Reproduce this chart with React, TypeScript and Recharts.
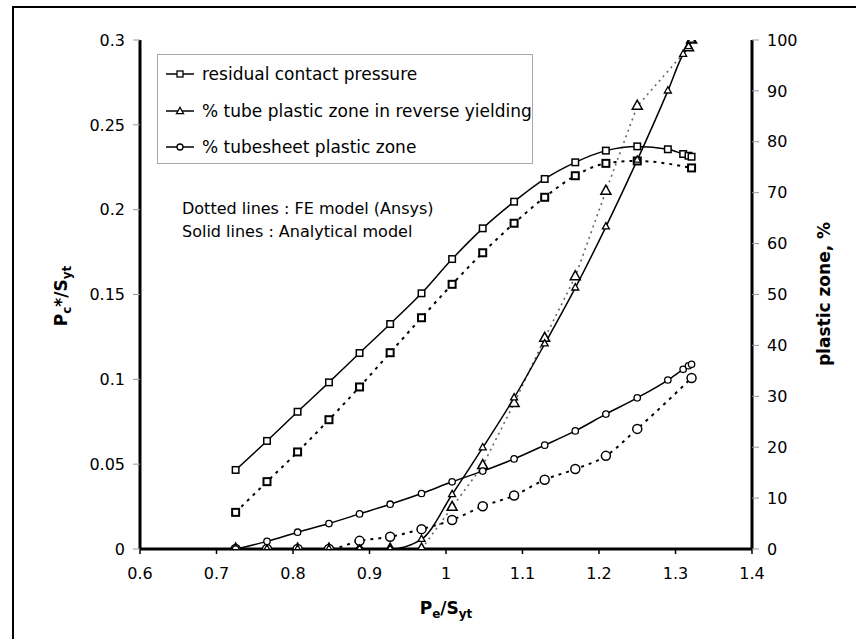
import React from 'react';
import { LineChart, Line, XAxis, YAxis, Legend, Label } from 'recharts';

// ---- Data ----
const xAnalytic = [0.725, 0.766, 0.806, 0.847, 0.887, 0.927, 0.968, 1.008, 1.048, 1.089, 1.129, 1.169, 1.209, 1.25, 1.29, 1.31, 1.317, 1.321];
const pressureAnalytic = [0.0466, 0.0637, 0.0809, 0.0982, 0.1155, 0.1326, 0.1507, 0.1709, 0.189, 0.2047, 0.2181, 0.2279, 0.2348, 0.2373, 0.2356, 0.2328, 0.2318, 0.2312];
const tubeAnalytic = [0, 0, 0, 0, 0, 0, 1.9, 10.7, 19.9, 29.7, 40.3, 51.3, 63.3, 76.4, 90.0, 97.2, 98.7, 100];
const tubesheetAnalytic = [0, 1.5, 3.3, 5.0, 6.9, 8.8, 10.9, 13.2, 15.3, 17.7, 20.4, 23.2, 26.5, 29.7, 33.2, 35.3, 36.0, 36.3];

const xPressureFE = [0.725, 0.766, 0.806, 0.847, 0.887, 0.927, 0.968, 1.008, 1.048, 1.089, 1.129, 1.169, 1.209, 1.25, 1.321];
const pressureFE = [0.0216, 0.0397, 0.0572, 0.0762, 0.0955, 0.1157, 0.1363, 0.156, 0.1746, 0.192, 0.2073, 0.22, 0.2273, 0.2287, 0.2246];

const xTubeFE = [0.725, 0.766, 0.806, 0.847, 0.887, 0.927, 0.968, 1.008, 1.048, 1.089, 1.129, 1.169, 1.209, 1.25, 1.317, 1.321];
const tubeFE = [0, 0, 0, 0, 0, 0, 0, 8.2, 16.4, 28.6, 41.4, 53.5, 70.3, 87.0, 98.5, 100];

const xTubesheetFE = [0.725, 0.766, 0.806, 0.847, 0.887, 0.927, 0.968, 1.008, 1.048, 1.089, 1.129, 1.169, 1.209, 1.25, 1.321];
const tubesheetFE = [0, 0, 0, 0, 1.6, 2.4, 3.9, 5.7, 8.4, 10.5, 13.6, 15.7, 18.3, 23.6, 33.6];

const xTicks = [0.6, 0.7, 0.8, 0.9, 1, 1.1, 1.2, 1.3, 1.4];
const leftTicks = [0, 0.05, 0.1, 0.15, 0.2, 0.25, 0.3];
const rightTicks = [0, 10, 20, 30, 40, 50, 60, 70, 80, 90, 100];
const xMinorTicks = Array.from({ length: 41 }, (_, i) => Math.round((0.6 + i * 0.02) * 1000) / 1000);
const leftMinorTicks = Array.from({ length: 31 }, (_, i) => Math.round(i * 0.01 * 1000) / 1000);
const rightMinorTicks = Array.from({ length: 51 }, (_, i) => i * 2);

const legendLabels = ['residual contact pressure', '% tube plastic zone in reverse yielding', '% tubesheet plastic zone'];
const noteLines = ['Dotted lines : FE model (Ansys)', 'Solid lines : Analytical model'];

const pair = (xs: number[], ys: number[]) => xs.map((x, i) => ({ x, y: ys[i] }));

const pressureAnalyticData = pair(xAnalytic, pressureAnalytic);
const tubeAnalyticData = pair(xAnalytic, tubeAnalytic);
const tubesheetAnalyticData = pair(xAnalytic, tubesheetAnalytic);
const pressureFEData = pair(xPressureFE, pressureFE);
const tubeFEData = pair(xTubeFE, tubeFE);
const tubesheetFEData = pair(xTubesheetFE, tubesheetFE);

const FONT = '"DejaVu Sans", "Liberation Sans", Arial, sans-serif';

// ---- Marker shapes ----
const squareDot = (size: number, sw: number) => (props: any) => {
  const { cx, cy, index } = props;
  if (cx == null || cy == null) return <g key={index} />;
  return (
    <rect key={index} x={cx - size / 2} y={cy - size / 2} width={size} height={size}
      fill="#fff" stroke="#000" strokeWidth={sw} />
  );
};
const circleDot = (r: number, sw: number) => (props: any) => {
  const { cx, cy, index } = props;
  if (cx == null || cy == null) return <g key={index} />;
  return <circle key={index} cx={cx} cy={cy} r={r} fill="#fff" stroke="#000" strokeWidth={sw} />;
};
const triPoints = (cx: number, cy: number, w: number) => {
  const h = w * 0.9;
  return `${cx},${cy - (h * 2) / 3} ${cx - w / 2},${cy + h / 3} ${cx + w / 2},${cy + h / 3}`;
};
const triangleDot = (w: number, sw: number) => (props: any) => {
  const { cx, cy, index } = props;
  if (cx == null || cy == null) return <g key={index} />;
  return <polygon key={index} points={triPoints(cx, cy, w)} fill="#fff" stroke="#000" strokeWidth={sw} />;
};

const renderLegend = () => (
  <div
    style={{
      width: 376,
      height: 110,
      border: '1px solid #a8a8a8',
      boxSizing: 'border-box',
      background: '#fff',
      position: 'relative',
      fontFamily: FONT,
    }}
  >
    {legendLabels.map((label, i) => (
      <div
        key={label}
        style={{
          position: 'absolute',
          left: 7,
          top: [19, 56, 92][i] - 11,
          height: 22,
          display: 'flex',
          alignItems: 'center',
          whiteSpace: 'nowrap',
        }}
      >
        <svg width={30} height={22} style={{ display: 'block' }}>
          <line x1={1} y1={11} x2={29} y2={11} stroke="#000" strokeWidth={1.5} />
          {i === 0 && <rect x={12} y={8} width={6} height={6} fill="#fff" stroke="#000" strokeWidth={1.3} />}
          {i === 1 && <polygon points={triPoints(15, 11.5, 7)} fill="#fff" stroke="#000" strokeWidth={1.3} />}
          {i === 2 && <circle cx={15} cy={11} r={3} fill="#fff" stroke="#000" strokeWidth={1.3} />}
        </svg>
        <span style={{ marginLeft: 7, fontSize: 17, color: '#000' }}>{label}</span>
      </div>
    ))}
  </div>
);

const LeftTitle = () => (
  <text x={67} y={296} transform="rotate(-90, 67, 296)" textAnchor="middle"
    fontFamily={FONT} fontWeight="bold" fontSize={17} fill="#000">
    P<tspan fontSize={12} dy={4}>c</tspan><tspan dy={-4}>*/S</tspan><tspan fontSize={12} dy={4}>yt</tspan>
  </text>
);
const RightTitle = () => (
  <text x={830} y={294} transform="rotate(-90, 830, 294)" textAnchor="middle"
    fontFamily={FONT} fontWeight="bold" fontSize={17} fill="#000">
    plastic zone, %
  </text>
);
const BottomTitle = () => (
  <text x={446} y={614} textAnchor="middle" fontFamily={FONT} fontWeight="bold" fontSize={17} fill="#000">
    P<tspan fontSize={12} dy={4}>e</tspan><tspan dy={-4}>/S</tspan><tspan fontSize={12} dy={4}>yt</tspan>
  </text>
);

const tickStyle = { fill: '#000', fontSize: 16, fontFamily: FONT };

export default function App() {
  return (
    <div style={{ position: 'absolute', left: 0, top: 0, width: 856, height: 639, overflow: 'hidden', background: '#fff' }}>
      <div
        style={{
          position: 'absolute',
          left: 12,
          top: 6,
          width: 900,
          height: 700,
          borderLeft: '2.5px solid #000',
          borderTop: '2.5px solid #000',
        }}
      />
      <div style={{ position: 'absolute', left: 0, top: 0 }}>
        <LineChart width={856} height={639} margin={{ top: 40, right: 44, bottom: 50, left: 80 }}>
          <XAxis
            xAxisId="main"
            type="number"
            dataKey="x"
            domain={[0.6, 1.4]}
            ticks={xTicks}
            interval={0}
            height={40}
            axisLine={{ stroke: '#000', strokeWidth: 3 }}
            tickLine={{ stroke: '#000', strokeWidth: 1.5 }}
            tickSize={5}
            tickMargin={14}
            tick={tickStyle}
            allowDataOverflow
            label={<Label content={() => <BottomTitle />} />}
          />
          <XAxis
            xAxisId="minor"
            type="number"
            dataKey="x"
            domain={[0.6, 1.4]}
            ticks={xMinorTicks}
            interval={0}
            height={0}
            mirror
            axisLine={false}
            tick={false}
            tickSize={5}
            tickLine={{ stroke: '#000', strokeWidth: 1.5 }}
            allowDataOverflow
          />
          <XAxis
            xAxisId="top"
            orientation="top"
            type="number"
            dataKey="x"
            domain={[0.6, 1.4]}
            ticks={xTicks}
            height={0}
            mirror
            tick={false}
            tickLine={false}
            axisLine={{ stroke: '#000', strokeWidth: 3 }}
            allowDataOverflow
          />
          <YAxis
            yAxisId="left"
            type="number"
            domain={[0, 0.3]}
            ticks={leftTicks}
            interval={0}
            width={60}
            axisLine={{ stroke: '#000', strokeWidth: 3 }}
            tickLine={{ stroke: '#999', strokeWidth: 1 }}
            tickSize={7}
            tickMargin={8}
            tick={tickStyle}
            allowDataOverflow
            label={<Label content={() => <LeftTitle />} />}
          />
          <YAxis
            yAxisId="leftMinor"
            type="number"
            domain={[0, 0.3]}
            ticks={leftMinorTicks}
            interval={0}
            width={0}
            mirror
            axisLine={false}
            tick={false}
            tickSize={3}
            tickLine={{ stroke: '#999', strokeWidth: 1 }}
            allowDataOverflow
          />
          <YAxis
            yAxisId="right"
            orientation="right"
            type="number"
            domain={[0, 100]}
            ticks={rightTicks}
            interval={0}
            width={60}
            axisLine={{ stroke: '#000', strokeWidth: 3 }}
            tickLine={{ stroke: '#999', strokeWidth: 1 }}
            tickSize={7}
            tickMargin={8}
            tick={tickStyle}
            allowDataOverflow
            label={<Label content={() => <RightTitle />} />}
          />
          <YAxis
            yAxisId="rightMinor"
            orientation="right"
            type="number"
            domain={[0, 100]}
            ticks={rightMinorTicks}
            interval={0}
            width={0}
            mirror
            axisLine={false}
            tick={false}
            tickSize={3}
            tickLine={{ stroke: '#999', strokeWidth: 1 }}
            allowDataOverflow
          />
          <Legend
            layout="vertical"
            align="center"
            verticalAlign="middle"
            content={renderLegend}
            wrapperStyle={{ position: 'absolute', left: 157, top: 54, width: 376, height: 110 }}
          />

          {/* FE model (dotted) */}
          <Line xAxisId="main" yAxisId="left" data={pressureFEData} dataKey="y" type="monotone"
            stroke="#000" strokeWidth={2} strokeDasharray="3 5" dot={squareDot(7, 2)}
            isAnimationActive={false} legendType="none" name="pressure FE" />
          <Line xAxisId="main" yAxisId="right" data={tubeFEData} dataKey="y" type="linear"
            stroke="#666" strokeWidth={1.6} strokeDasharray="2 4" dot={triangleDot(10, 1.5)}
            isAnimationActive={false} legendType="none" name="tube FE" />
          <Line xAxisId="main" yAxisId="right" data={tubesheetFEData} dataKey="y" type="monotone"
            stroke="#000" strokeWidth={2} strokeDasharray="3 5" dot={circleDot(4.5, 1.5)}
            isAnimationActive={false} legendType="none" name="tubesheet FE" />

          {/* Analytical model (solid) */}
          <Line xAxisId="main" yAxisId="left" data={pressureAnalyticData} dataKey="y" type="monotone"
            stroke="#000" strokeWidth={1.5} dot={squareDot(6.5, 1.5)}
            isAnimationActive={false} name="residual contact pressure" />
          <Line xAxisId="main" yAxisId="right" data={tubeAnalyticData} dataKey="y" type="monotone"
            stroke="#000" strokeWidth={1.5} dot={triangleDot(7, 1.3)}
            isAnimationActive={false} name="% tube plastic zone in reverse yielding" />
          <Line xAxisId="main" yAxisId="right" data={tubesheetAnalyticData} dataKey="y" type="monotone"
            stroke="#000" strokeWidth={1.5} dot={circleDot(3.2, 1.3)}
            isAnimationActive={false} name="% tubesheet plastic zone" />
        </LineChart>
      </div>
      <div
        style={{
          position: 'absolute',
          left: 182,
          top: 197,
          fontFamily: FONT,
          fontSize: 16,
          lineHeight: '23px',
          color: '#000',
          whiteSpace: 'nowrap',
        }}
      >
        {noteLines.map((t) => (
          <div key={t}>{t}</div>
        ))}
      </div>
    </div>
  );
}
